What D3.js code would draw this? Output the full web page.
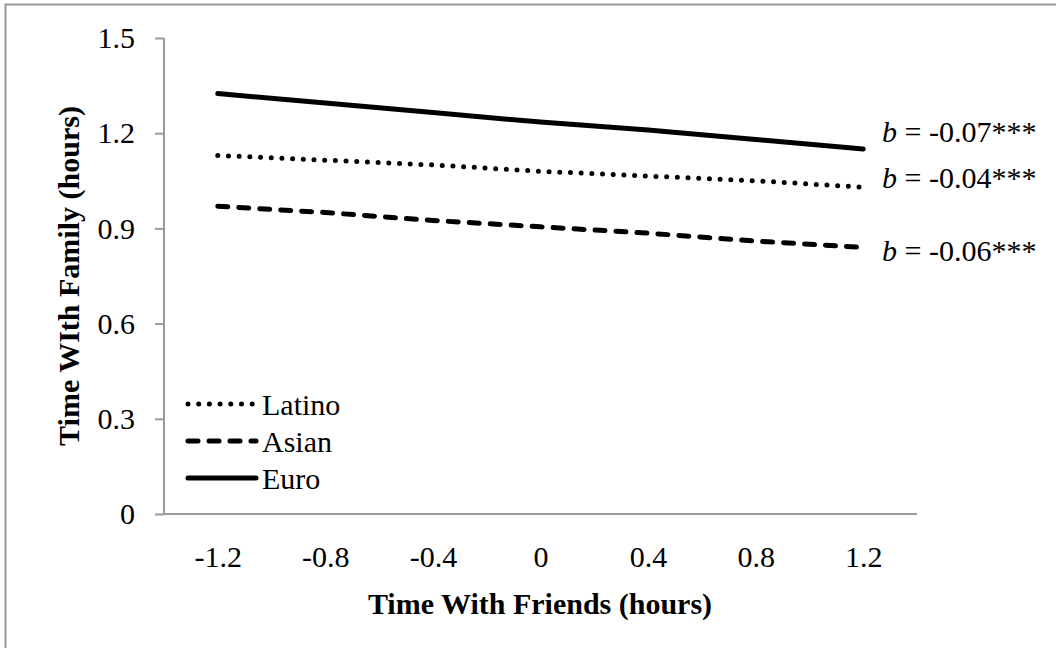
<!DOCTYPE html>
<html>
<head>
<meta charset="utf-8">
<script src="https://cdn.jsdelivr.net/npm/d3@7"></script>
<style>
  body { margin: 0; background: #fff; }
  svg text { font-family: "Liberation Serif", "Times New Roman", Times, "DejaVu Serif", serif; }
</style>
</head>
<body>
<svg id="canvas" width="1056" height="648"></svg>
<script>
// categories on the x axis
const xCats = ["-1.2", "-0.8", "-0.4", "0", "0.4", "0.8", "1.2"]
const yTicks = [0, 0.3, 0.6, 0.9, 1.2, 1.5]

// series values
const latino = [1.13, 1.115, 1.10, 1.08, 1.065, 1.05, 1.03]
const asian = [0.97, 0.95, 0.925, 0.905, 0.885, 0.86, 0.84]
const euro = [1.325, 1.295, 1.265, 1.235, 1.21, 1.18, 1.15]

const seriesNames = ["Latino", "Asian", "Euro"]
const bLabels = ["-0.04***", "-0.06***", "-0.07***"]
// where the b = ... notes sit (in data units)
const bLabelY = [1.06, 0.83, 1.205]

const svg = d3.select("#canvas")

// outer frame (runs off the right and bottom edge)
svg.append("rect")
    .attr("x", 5.5).attr("y", 4.5)
    .attr("width", 1200).attr("height", 800)
    .attr("fill", "none")
    .attr("stroke", "#9a9a9a")
    .attr("stroke-width", 2)

const x = d3.scalePoint().domain(xCats).range([164, 917]).padding(0.5)
const y = d3.scaleLinear().domain([0, 1.5]).range([514, 38])

// y axis
const yAxis = svg.append("g")
    .attr("transform", "translate(164,0)")
    .call(d3.axisLeft(y).tickValues(yTicks).tickSize(9).tickPadding(20)
        .tickFormat(d => d3.format("")(+d.toFixed(1))))
yAxis.attr("font-family", null)
yAxis.select(".domain").attr("d", "M0," + y(1.5) + "V" + y(0))
yAxis.selectAll("line, path").attr("stroke", "#9a9a9a").attr("stroke-width", 2)
yAxis.selectAll("text").attr("font-size", 30).attr("fill", "#000")

// x axis (no tick marks)
const xAxis = svg.append("g")
    .attr("transform", "translate(0," + y(0) + ")")
    .call(d3.axisBottom(x).tickSize(0).tickPadding(32))
xAxis.attr("font-family", null)
xAxis.select(".domain").attr("d", "M164,0H917")
    .attr("stroke", "#9a9a9a").attr("stroke-width", 2)
xAxis.selectAll("text").attr("font-size", 30).attr("fill", "#000")

// axis titles
svg.append("text")
    .attr("x", 540).attr("y", 614)
    .attr("text-anchor", "middle")
    .attr("font-size", 30).attr("font-weight", "bold")
    .text("Time With Friends (hours)")

svg.append("text")
    .attr("transform", "translate(79,276) rotate(-90)")
    .attr("text-anchor", "middle")
    .attr("font-size", 30).attr("font-weight", "bold")
    .text("Time WIth Family (hours)")

// line styles
const styles = {
    Latino: { dash: "0 10.7", width: 5, cap: "round" },
    Asian: { dash: "10 11", width: 5, cap: "round" },
    Euro: { dash: null, width: 5, cap: "round" }
}
const allSeries = [latino, asian, euro]

const line = d3.line()
    .x((d, i) => x(xCats[i]))
    .y(d => y(d))

svg.append("g").selectAll("path")
    .data(allSeries)
    .enter()
    .append("path")
    .attr("d", d => line(d))
    .attr("fill", "none")
    .attr("stroke", "#000")
    .attr("stroke-width", (d, i) => styles[seriesNames[i]].width)
    .attr("stroke-linecap", (d, i) => styles[seriesNames[i]].cap)
    .attr("stroke-dasharray", (d, i) => styles[seriesNames[i]].dash)

// b = ... notes
const notes = svg.append("g").selectAll("text")
    .data(bLabels)
    .enter()
    .append("text")
    .attr("x", 882)
    .attr("y", (d, i) => y(bLabelY[i]))
    .attr("dy", "0.35em")
    .attr("font-size", 30)
notes.append("tspan").attr("font-style", "italic").text("b")
notes.append("tspan").text(d => " = " + d)

// legend
const legendY = [404, 441, 478]
const legend = svg.append("g").selectAll("g")
    .data(seriesNames)
    .enter()
    .append("g")
    .attr("transform", (d, i) => "translate(0," + legendY[i] + ")")
legend.append("line")
    .attr("x1", 188).attr("x2", 256)
    .attr("stroke", "#000")
    .attr("stroke-width", d => styles[d].width)
    .attr("stroke-linecap", d => styles[d].cap)
    .attr("stroke-dasharray", d => styles[d].dash)
legend.append("text")
    .attr("x", 262).attr("dy", "0.35em")
    .attr("font-size", 30)
    .text(d => d)
</script>
</body>
</html>
